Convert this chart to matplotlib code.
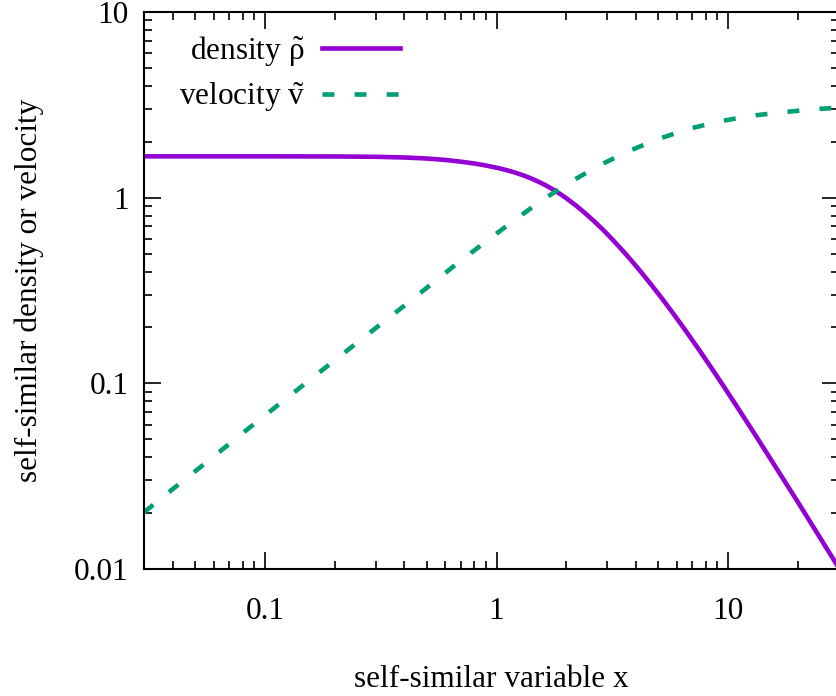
import matplotlib
matplotlib.use('Agg')
import matplotlib.pyplot as plt
from matplotlib.ticker import FuncFormatter, NullFormatter, LogLocator

# values
x_rho = [0.03, 0.1, 0.2, 0.3, 0.4, 0.5, 0.6, 0.7, 0.8, 0.9, 1.0, 1.1, 1.2, 1.3,
         1.4, 1.5, 1.62, 1.75, 1.87, 2.0, 2.2, 2.4, 2.65, 2.9, 3.2, 3.5, 3.85,
         4.2, 4.7, 5.2, 5.8, 6.5, 7.5, 8.5, 9.7, 11, 13, 15, 17.5, 20, 25, 30]
rho = [1.67, 1.67, 1.667, 1.66, 1.646, 1.625, 1.597, 1.563, 1.528, 1.490, 1.450,
       1.409, 1.366, 1.321, 1.275, 1.227, 1.171, 1.109, 1.053, 0.994, 0.908,
       0.830, 0.743, 0.667, 0.587, 0.520, 0.454, 0.399, 0.335, 0.285, 0.2375,
       0.1952, 0.1514, 0.1204, 0.0940, 0.0740, 0.0536, 0.0405, 0.0299, 0.0230,
       0.0147, 0.0102]

x_v = [0.03, 0.04, 0.0523, 0.0861, 0.151, 0.249, 0.409, 0.673, 0.907, 1.175, 1.54,
       2.03, 2.69, 3.6, 4.89, 6.7, 9.24, 12.7, 17.6, 24.4, 30.0]
vel = [0.0202, 0.027, 0.0352, 0.058, 0.101, 0.165, 0.268, 0.44, 0.585, 0.745, 0.952,
       1.19, 1.46, 1.75, 2.05, 2.34, 2.58, 2.765, 2.894, 3.004, 3.05]

xticks = [0.1, 1, 10]
yticks = [0.01, 0.1, 1, 10]

plt.rcParams['font.family'] = ['Liberation Serif', 'DejaVu Serif']
plt.rcParams['mathtext.fontset'] = 'custom'
plt.rcParams['mathtext.rm'] = 'Liberation Serif'
plt.rcParams['mathtext.it'] = 'Liberation Serif:italic'
fs = 22.5

fig = plt.figure(figsize=(8.37, 6.96), dpi=100)
W, H = 837.0, 696.0
ax = fig.add_axes([144 / W, (H - 569) / H, 694.5 / W, 557 / H])

ax.plot(x_rho, rho, color='#9400D3', lw=3.3, label=r'density $\tilde{\mathrm{\rho}}$')
ax.plot(x_v, vel, color='#009E73', lw=3.3, dashes=(2.6, 4.4),
        label=r'velocity $\tilde{\mathrm{v}}$')

ax.set_xscale('log')
ax.set_yscale('log')
ax.set_xlim(0.03, 30)
ax.set_ylim(0.01, 10)

fmt = FuncFormatter(lambda v, p: '%g' % v)
ax.set_xticks(xticks)
ax.set_yticks(yticks)
ax.xaxis.set_major_formatter(fmt)
ax.yaxis.set_major_formatter(fmt)
ax.xaxis.set_minor_locator(LogLocator(base=10, subs=range(2, 10)))
ax.yaxis.set_minor_locator(LogLocator(base=10, subs=range(2, 10)))
ax.xaxis.set_minor_formatter(NullFormatter())
ax.yaxis.set_minor_formatter(NullFormatter())

ax.tick_params(which='both', direction='in', top=True, right=True, width=1.2,
               colors='black', labelsize=fs)
ax.tick_params(which='major', length=12)
ax.tick_params(which='minor', length=6)
ax.tick_params(axis='x', which='major', pad=20)
ax.tick_params(axis='y', which='major', pad=11)
for s in ax.spines.values():
    s.set_linewidth(1.5)

ax.set_xlabel('self-similar variable x', fontsize=fs, labelpad=28)
ax.set_ylabel('self-similar density or velocity', fontsize=fs, labelpad=22)

ax.legend(loc='upper right', bbox_to_anchor=(0.3686, 0.961), frameon=False,
          markerfirst=False, fontsize=fs, handlelength=2.5, handletextpad=0.55,
          labelspacing=0.38, borderpad=0, borderaxespad=0)

fig.savefig('out.png', dpi=100)
